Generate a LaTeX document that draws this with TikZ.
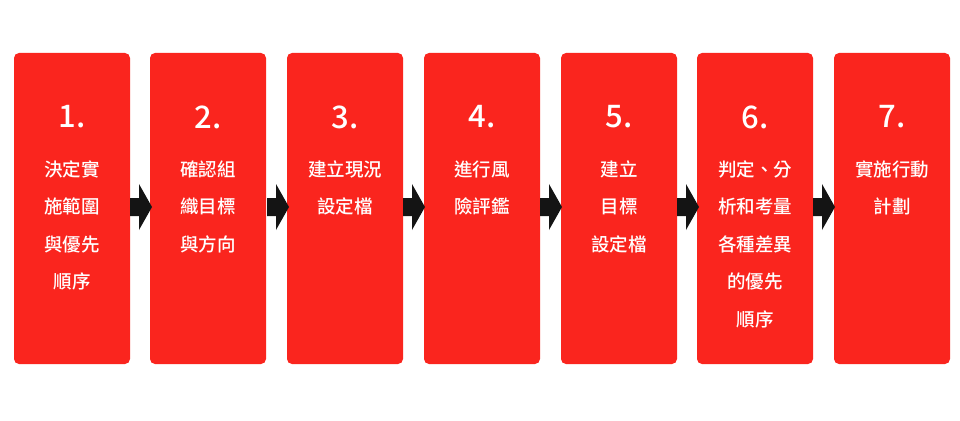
\documentclass[tikz,border=0pt]{standalone}
\usepackage{fontspec}
\newfontfamily\cjk{Noto Sans CJK TC Medium}
\begin{document}
\begin{tikzpicture}[x=1pt,y=-1pt,
  lbl/.style={text=white, font=\cjk\fontsize{18.5}{37.5}\selectfont, align=center, anchor=north},
  num/.style={text=white, font=\cjk\fontsize{31}{31}\selectfont, anchor=center}]
\definecolor{boxred}{RGB}{250,37,30}
\useasboundingbox (0,0) rectangle (960,420);
\foreach \i/\x/\t in {1/14/{決定實\\施範圍\\與優先\\順序},2/150/{確認組\\織目標\\與方向},3/287/{建立現況\\設定檔},4/424/{進行風\\險評鑑},5/561/{建立\\目標\\設定檔},6/697/{判定、分\\析和考量\\各種差異\\的優先\\順序},7/834/{實施行動\\計劃}}{
  \fill[boxred, rounded corners=5pt] (\x,53) rectangle ++(116,311);
  \node[num] (n\i) at (\x+58,117) {\i.};
  \node[lbl] (t\i) at (\x+58,157) {\t};
}
\foreach \x in {130,267,403,540,677,813}{
  \fill[black!92] (\x,198) -- (\x+9,198) -- (\x+9,184) -- (\x+22,207) -- (\x+9,230) -- (\x+9,216) -- (\x,216) -- cycle;
}
\end{tikzpicture}
\end{document}
